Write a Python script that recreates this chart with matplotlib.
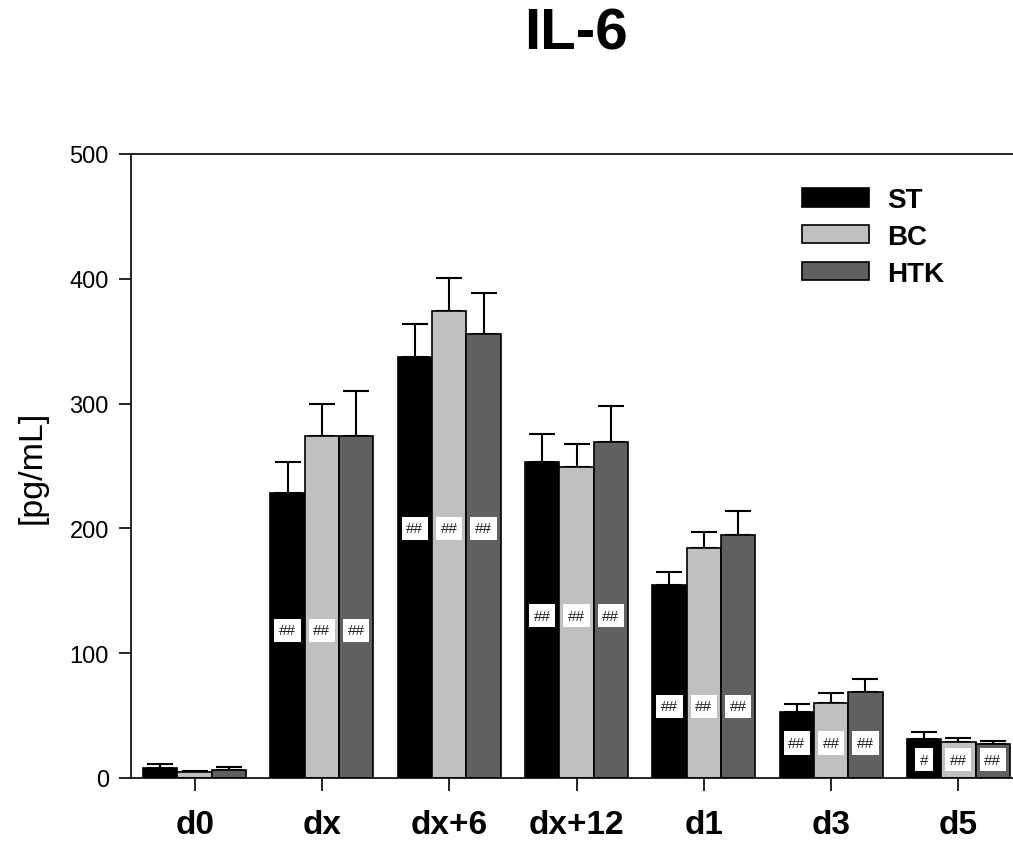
import matplotlib
matplotlib.use("Agg")
import matplotlib.pyplot as plt
import numpy as np

plt.rcParams['font.family'] = ['Liberation Sans', 'DejaVu Sans']

categories = ["d0", "dx", "dx+6", "dx+12", "d1", "d3", "d5"]
series = ["ST", "BC", "HTK"]
st_vals = [8.3, 228, 337, 253, 155, 53, 31]
st_err = [3, 25, 27, 23, 10, 6, 5.5]
bc_vals = [4.5, 274, 374, 249, 184, 60, 29]
bc_err = [1, 25.5, 26.5, 18.5, 13.5, 8, 3.2]
htk_vals = [6.6, 274, 356, 269, 194.5, 69, 27]
htk_err = [2, 36, 33, 29, 19.5, 10, 3]
sig_labels = [
    ["", "", ""],
    ["##", "##", "##"],
    ["##", "##", "##"],
    ["##", "##", "##"],
    ["##", "##", "##"],
    ["##", "##", "##"],
    ["#", "##", "##"],
]
sig_y = [None, 118.5, 200, 130, 57.5, 28, 14.5]

colors = ["#000000", "#c0c0c0", "#606060"]

fig = plt.figure(figsize=(10.13, 8.45), dpi=100)
ax = fig.add_axes([131/1013, 66/845, 891/1013, 624/845])

x = np.arange(len(categories))
w = 0.27
vals = [st_vals, bc_vals, htk_vals]
errs = [st_err, bc_err, htk_err]
for i, (v, e, c, name) in enumerate(zip(vals, errs, colors, series)):
    pos = x + (i - 1) * w
    ax.bar(pos, v, width=w, color=c, edgecolor="black", linewidth=1.2, label=name, zorder=2)
    ax.errorbar(pos, v, yerr=[np.zeros(len(e)), e], fmt="none", ecolor="black",
                elinewidth=1.5, capsize=9.5, capthick=1.5, zorder=1)
    for g in range(len(categories)):
        lab = sig_labels[g][i]
        if lab:
            ax.text(pos[g], sig_y[g], lab, ha="center", va="center", fontsize=11,
                    color="#222222", zorder=3,
                    bbox=dict(boxstyle="square,pad=0.3", facecolor="white", edgecolor="none"))

ax.set_xlim(-0.5, 6.5)
ax.set_ylim(0, 500)
ax.set_yticks([0, 100, 200, 300, 400, 500])
ax.set_xticks(x)
ax.set_xticklabels(categories, fontsize=24, fontweight="bold")
ax.tick_params(axis="y", labelsize=17, direction="out", length=9, width=1.2, pad=7)
ax.tick_params(axis="x", direction="out", length=9, width=1.2, pad=13)
ax.spines["right"].set_visible(False)
for s in ["left", "bottom", "top"]:
    ax.spines[s].set_linewidth(1.2)
ax.set_ylabel("[pg/mL]", fontsize=24.5, labelpad=16)
ax.set_title("IL-6", fontsize=42, fontweight="bold", pad=76)

leg = ax.legend(loc="upper left", bbox_to_anchor=(0.753, 0.947), frameon=False,
                borderpad=0, borderaxespad=0,
                prop={"size": 20, "weight": "bold"}, handlelength=2.4, handleheight=0.65,
                labelspacing=0.39, handletextpad=0.65)

fig.savefig("out.png", dpi=100)
